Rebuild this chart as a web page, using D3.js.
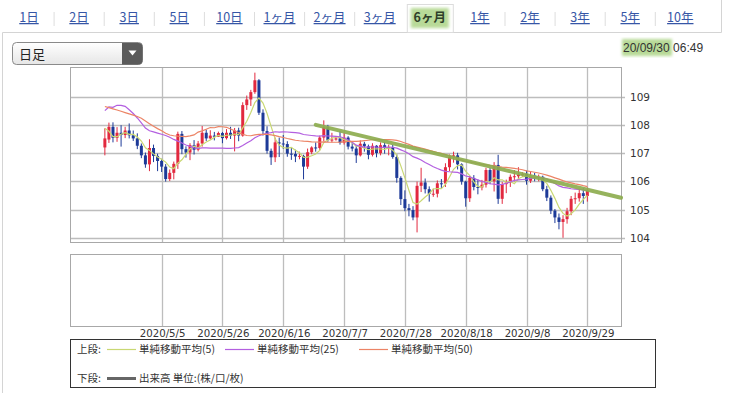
<!DOCTYPE html>
<html>
<head>
<meta charset="utf-8">
<script src="https://cdnjs.cloudflare.com/ajax/libs/d3/7.8.5/d3.min.js"></script>
<style>
body{margin:0;background:#fff;}
svg text{font-family:"Noto Sans CJK JP","DejaVu Sans",sans-serif;}
</style>
</head>
<body>
<div id="chart"></div>
<script>
// period tabs
var tabLabels = ["1日","2日","3日","5日","10日","1ヶ月","2ヶ月","3ヶ月","6ヶ月","1年","2年","3年","5年","10年"];
var selectedTab = 8;

// trading days shown (weekdays), first and last
var firstDay = "2020-04-15", lastDay = "2020-09-29";

// closes before the first shown day (only used for the moving averages)
var priorCloses = [109.50,109.83,109.97,109.74,109.77,109.84,110.08,109.83,109.77,109.85,
  109.90,111.42,112.06,111.60,110.76,110.26,110.40,109.53,107.89,
  108.36,107.55,107.50,106.08,105.36,102.35,105.54,104.56,104.66,107.92,105.84,
  107.68,108.69,110.70,110.84,111.20,111.18,111.21,109.60,107.94,107.80,107.53,
  107.16,107.88,108.52,109.22,108.80,108.81,108.47,108.47,107.75,107.19];

var opens = [107.20,107.48,107.93,107.54,107.72,107.64,107.80,107.63,107.52,107.26,
  106.92,106.60,107.18,106.90,106.72,106.52,106.08,106.30,106.62,107.68,
  107.14,107.02,107.28,107.12,107.34,107.72,107.52,107.62,107.58,107.71,
  107.53,107.72,107.62,107.80,107.62,108.70,108.90,109.16,109.58,108.43,
  107.78,107.08,106.85,107.38,107.34,107.32,106.98,106.97,106.88,106.90,
  106.52,107.03,107.20,107.18,107.55,107.92,107.46,107.48,107.52,107.37,
  107.55,107.23,107.16,106.92,107.33,107.24,106.94,107.26,107.00,107.28,
  107.18,107.20,106.86,106.12,105.37,105.05,104.98,104.72,105.84,105.96,
  105.72,105.56,105.56,105.93,105.92,106.50,106.86,106.92,106.60,105.99,
  105.40,106.12,105.80,105.78,105.88,106.40,106.00,106.58,105.38,105.90,
  105.96,106.16,106.18,106.24,106.26,106.02,106.20,106.14,106.16,105.72,
  105.42,104.96,104.72,104.56,104.66,104.94,105.38,105.40,105.58,105.48];
var highs = [107.88,108.08,108.09,107.92,107.99,107.93,108.05,107.80,107.70,107.34,
  107.02,107.49,107.30,106.98,106.80,106.61,106.42,106.70,107.76,107.78,
  107.24,107.35,107.46,107.43,107.96,107.83,107.81,107.75,107.76,107.75,
  107.85,107.93,107.89,107.90,108.80,109.04,109.24,109.85,109.62,108.55,
  107.95,107.16,107.55,107.55,107.64,107.42,107.19,107.12,107.05,106.94,
  107.16,107.24,107.38,107.62,108.16,108.00,107.72,107.58,107.78,107.72,
  107.60,107.42,107.26,107.45,107.40,107.30,107.35,107.28,107.38,107.40,
  107.30,107.30,106.96,106.18,105.68,105.20,105.12,105.99,106.48,106.10,
  105.82,105.74,106.03,106.08,106.64,106.95,107.05,107.01,106.64,106.02,
  106.18,106.22,106.06,106.05,106.48,106.48,106.68,106.94,105.98,106.06,
  106.24,106.40,106.50,106.32,106.38,106.34,106.30,106.24,106.20,105.84,
  105.50,105.02,104.86,104.80,105.06,105.48,105.60,105.70,105.76,105.78];
var lows = [106.92,107.36,107.38,107.40,107.23,107.53,107.52,107.43,107.14,106.82,
  106.48,106.36,106.68,106.36,106.33,105.99,106.01,106.07,106.44,106.96,
  106.84,106.75,106.95,107.06,107.23,107.43,107.48,107.45,107.58,107.35,
  107.48,107.50,107.06,107.42,107.58,108.53,108.67,109.10,108.35,107.62,
  106.98,106.58,106.68,106.86,107.15,106.87,106.76,106.68,106.78,106.07,
  106.44,106.96,107.05,107.10,107.42,107.40,107.38,107.44,107.30,107.30,
  107.13,107.06,106.65,106.88,107.05,106.78,106.88,106.85,106.92,106.98,
  106.92,106.80,105.95,105.16,104.94,104.76,104.62,104.19,105.62,105.57,
  105.28,105.45,105.43,105.74,105.80,106.36,106.66,106.42,105.88,105.10,
  105.27,105.68,105.54,105.68,105.78,105.90,105.64,105.20,105.20,105.58,
  105.80,106.00,106.06,106.16,105.88,105.94,106.00,106.00,105.65,105.30,
  104.84,104.52,104.30,104.00,104.50,104.80,105.20,105.28,105.20,105.28];
var closes = [107.52,107.93,107.54,107.72,107.64,107.80,107.63,107.52,107.26,106.92,
  106.60,107.18,106.90,106.72,106.52,106.08,106.30,106.62,107.68,107.14,
  107.02,107.28,107.12,107.34,107.72,107.52,107.62,107.58,107.71,107.53,
  107.72,107.62,107.80,107.62,108.70,108.90,109.16,109.58,108.43,107.78,
  107.08,106.85,107.38,107.34,107.32,106.98,106.97,106.88,106.90,106.52,
  107.03,107.20,107.18,107.55,107.92,107.46,107.48,107.52,107.37,107.55,
  107.23,107.16,106.92,107.33,107.24,106.94,107.26,107.00,107.28,107.18,
  107.20,106.86,106.12,105.37,105.05,104.98,104.72,105.84,105.96,105.72,
  105.56,105.56,105.93,105.92,106.50,106.86,106.92,106.60,105.99,105.40,
  106.12,105.80,105.78,105.88,106.40,106.00,106.58,105.38,105.90,105.96,
  106.16,106.18,106.24,106.26,106.02,106.20,106.14,106.16,105.72,105.42,
  104.96,104.72,104.56,104.66,104.94,105.38,105.40,105.58,105.48,105.68];

var maPeriods = [5, 25, 50];
var maColors = ["#c9d873", "#b35fe0", "#ec8466"];
var maLabels = ["単純移動平均(5)", "単純移動平均(25)", "単純移動平均(50)"];

// hand drawn trend line: [date, value] and end at chart edge
var trendStart = ["2020-06-26", 108.0];
var trendEnd = [127.3, 105.42]; // (day index past last day, value)

var yTicks = [104, 105, 106, 107, 108, 109];
var xTickLabels = ["2020/5/5","2020/5/26","2020/6/16","2020/7/7","2020/7/28","2020/8/18","2020/9/8","2020/9/29"];
var updatedDate = "20/09/30", updatedTime = "06:49";

var W = 730, H = 393;
var svg = d3.select("#chart").append("svg").attr("width", W).attr("height", H);

var defs = svg.append("defs");
defs.append("filter").attr("id","soft").append("feGaussianBlur").attr("stdDeviation", 1.6);

// weekday list
var parse = d3.timeParse("%Y-%m-%d"), fmtSlash = d3.timeFormat("%Y/%-m/%-d");
var days = d3.timeDay.range(parse(firstDay), d3.timeDay.offset(parse(lastDay), 1))
  .filter(function (d) { return d.getDay() !== 0 && d.getDay() !== 6; });
var dayIndex = {};
days.forEach(function (d, i) { dayIndex[fmtSlash(d)] = i; });

// ---------- tabs ----------
var tabX = function (i) { return 29 + i * 50.1; };
var tabs = svg.append("g");
tabs.append("rect").attr("x", tabX(selectedTab) - 22.5).attr("y", 4.5).attr("width", 46).attr("height", 28)
  .attr("fill", "#fff").attr("stroke", "#dcdcdc");
tabs.append("rect").attr("x", tabX(selectedTab) - 19).attr("y", 8).attr("width", 38).attr("height", 20)
  .attr("fill", "#b8da98").attr("filter", "url(#soft)");
tabLabels.forEach(function (t, i) {
  var sel = i === selectedTab;
  tabs.append("text").attr("x", tabX(i)).attr("y", 22).attr("text-anchor", "middle")
    .attr("font-size", 12.5).attr("fill", sel ? "#2f3f2a" : "#3656a6")
    .attr("font-weight", sel ? "bold" : "normal")
    .style("text-decoration", sel ? "none" : "underline").text(t);
  if (i > 0 && i !== selectedTab && i !== selectedTab + 1) {
    tabs.append("line").attr("x1", tabX(i) - 25).attr("x2", tabX(i) - 25).attr("y1", 12).attr("y2", 26)
      .attr("stroke", "#dddddd");
  }
});
// panel frame
svg.append("path").attr("fill", "none").attr("stroke", "#d4d4d4")
  .attr("d", "M2.5,393V32.5H" + (tabX(selectedTab) - 22.5) + "M" + (tabX(selectedTab) + 23.5) + ",32.5H721.5V0");

// dropdown
var dd = svg.append("g");
var grad = defs.append("linearGradient").attr("id", "ddg").attr("x1", 0).attr("x2", 0).attr("y1", 0).attr("y2", 1);
grad.append("stop").attr("offset", 0).attr("stop-color", "#ffffff");
grad.append("stop").attr("offset", 1).attr("stop-color", "#e6e6e6");
dd.append("rect").attr("x", 12.5).attr("y", 42.5).attr("width", 130).attr("height", 22).attr("rx", 4)
  .attr("fill", "url(#ddg)").attr("stroke", "#8a8a8a");
dd.append("path").attr("d", "M122,43H138.5A4,4 0 0 1 142.5,47V60A4,4 0 0 1 138.5,64.5H122Z").attr("fill", "#5b5b5b");
dd.append("path").attr("d", "M128.5,50.5H136.5L132.5,55.5Z").attr("fill", "#fff");
dd.append("text").attr("x", 19).attr("y", 58.5).attr("font-size", 13).attr("fill", "#222").text("日足");

// timestamp
svg.append("rect").attr("x", 622).attr("y", 39).attr("width", 50).attr("height", 17)
  .attr("fill", "#b8da98").attr("filter", "url(#soft)");
svg.append("text").attr("x", 623).attr("y", 52).attr("font-size", 12).attr("fill", "#333")
  .style("font-family", "'Liberation Sans',Arial,sans-serif").text(updatedDate + " " + updatedTime);

// ---------- scales ----------
var left = 70, right = 621;
var x = d3.scaleLinear().domain([-8.6, 127.3]).range([left, right]);
var y = d3.scaleLinear().domain([103.85, 110.05]).range([242, 67]);
var volTop = 254, volBottom = 326;

var tickIdx = xTickLabels.map(function (s) { return dayIndex[s]; });

var grid = svg.append("g");
// horizontal grid + y ticks
grid.selectAll(".hg").data(yTicks).enter().append("line")
  .attr("x1", left).attr("x2", right + 4)
  .attr("y1", function (d) { return Math.round(y(d)) + 0.5; })
  .attr("y2", function (d) { return Math.round(y(d)) + 0.5; })
  .attr("stroke", "#bdbdbd").attr("stroke-width", 1.3);
// vertical grid in both panels
[[67, 242], [volTop, volBottom]].forEach(function (p) {
  grid.selectAll(null).data(tickIdx).enter().append("line")
    .attr("x1", function (d) { return Math.round(x(d)) + 0.5; })
    .attr("x2", function (d) { return Math.round(x(d)) + 0.5; })
    .attr("y1", p[0]).attr("y2", p[1])
    .attr("stroke", "#bdbdbd").attr("stroke-width", 1.3);
  grid.append("rect").attr("x", left + 0.5).attr("y", p[0] + 0.5)
    .attr("width", right - left).attr("height", p[1] - p[0])
    .attr("fill", "none").attr("stroke", "#a8a8a8");
});

svg.append("g").selectAll("text").data(yTicks).enter().append("text")
  .attr("x", 630).attr("y", function (d) { return y(d) + 4; })
  .attr("font-size", 10.5).attr("fill", "#333")
  .style("font-family", "'DejaVu Sans',sans-serif").text(function (d) { return d; });

svg.append("g").selectAll("text").data(xTickLabels).enter().append("text")
  .attr("x", function (d, i) { return x(tickIdx[i]) + 1; }).attr("y", 337)
  .attr("text-anchor", "middle").attr("font-size", 10.2).attr("fill", "#333")
  .style("font-family", "'DejaVu Sans',sans-serif").text(function (d) { return d; });

// ---------- candles ----------
var upColor = "#e2293f", downColor = "#1d3a98";
var candles = svg.append("g");
days.forEach(function (d, i) {
  var up = closes[i] >= opens[i];
  var c = up ? upColor : downColor;
  var cx = x(i);
  candles.append("line").attr("x1", cx).attr("x2", cx)
    .attr("y1", y(highs[i])).attr("y2", y(lows[i])).attr("stroke", c).attr("stroke-width", 1);
  var top = y(Math.max(opens[i], closes[i])), bot = y(Math.min(opens[i], closes[i]));
  candles.append("rect").attr("x", cx - 1.5).attr("width", 3)
    .attr("y", top).attr("height", Math.max(1, bot - top)).attr("fill", c);
});

// ---------- moving averages ----------
var allCloses = priorCloses.concat(closes);
var offset = priorCloses.length;
maPeriods.forEach(function (n, k) {
  var pts = closes.map(function (c, i) {
    var j = i + offset;
    return [i, d3.mean(allCloses.slice(j - n + 1, j + 1))];
  });
  svg.append("path").datum(pts)
    .attr("fill", "none").attr("stroke", maColors[k]).attr("stroke-width", 1.2)
    .attr("d", d3.line().x(function (p) { return x(p[0]); }).y(function (p) { return y(p[1]); }));
});

// ---------- trend line ----------
var t0 = dayIndex[fmtSlash(parse(trendStart[0]))];
svg.append("line")
  .attr("x1", x(t0)).attr("y1", y(trendStart[1]))
  .attr("x2", x(trendEnd[0])).attr("y2", y(trendEnd[1]))
  .attr("stroke", "#8dac4f").attr("stroke-width", 4).attr("stroke-opacity", 0.92)
  .attr("stroke-linecap", "round");

// ---------- legend ----------
var lg = svg.append("g");
lg.append("rect").attr("x", 70.5).attr("y", 339.5).attr("width", 585).attr("height", 48)
  .attr("fill", "none").attr("stroke", "#333");
var lgFont = 10.5;
lg.append("text").attr("x", 77).attr("y", 353).attr("font-size", lgFont).attr("fill", "#333").text("上段:");
var lgX = [107, 225, 359];
maLabels.forEach(function (t, k) {
  lg.append("line").attr("x1", lgX[k]).attr("x2", lgX[k] + 29).attr("y1", 349.5).attr("y2", 349.5)
    .attr("stroke", maColors[k]).attr("stroke-width", 1.2);
  lg.append("text").attr("x", lgX[k] + 32).attr("y", 353).attr("font-size", lgFont).attr("fill", "#333").text(t);
});
lg.append("text").attr("x", 77).attr("y", 382).attr("font-size", lgFont).attr("fill", "#333").text("下段:");
lg.append("line").attr("x1", 107).attr("x2", 136).attr("y1", 378.5).attr("y2", 378.5)
  .attr("stroke", "#666").attr("stroke-width", 3);
lg.append("text").attr("x", 139).attr("y", 382).attr("font-size", lgFont).attr("fill", "#333").text("出来高 単位:(株/口/枚)");
</script>
</body>
</html>
